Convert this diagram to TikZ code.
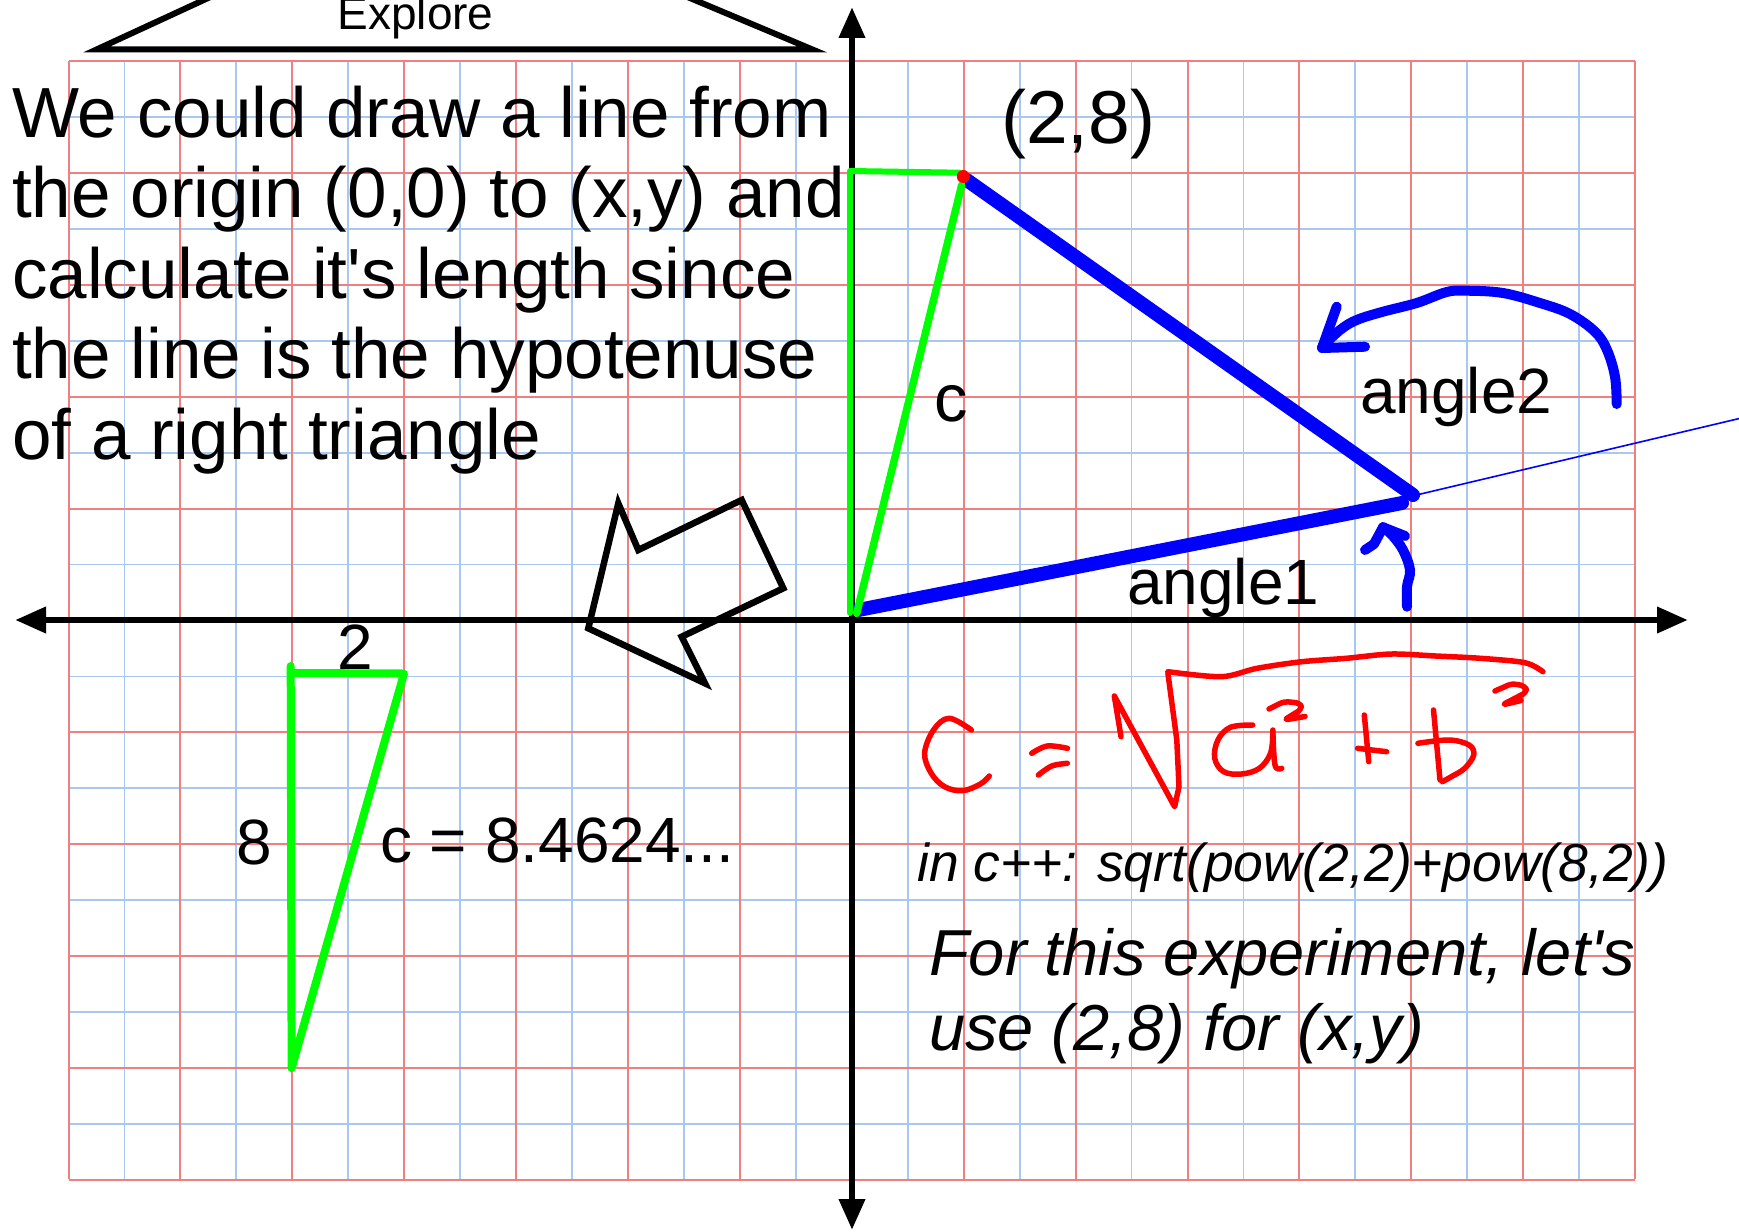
\documentclass[tikz,border=0pt]{standalone}
\usepackage{fontspec}
\setmainfont{Liberation Sans}[Ligatures=TeXOff]
\usetikzlibrary{arrows.meta}
\definecolor{gridred}{RGB}{240,128,128}
\definecolor{gridblue}{RGB}{168,200,240}
\definecolor{pgreen}{RGB}{0,255,0}
\definecolor{pblue}{RGB}{0,0,255}
\definecolor{pred}{RGB}{255,0,0}
\begin{document}
\begin{tikzpicture}[x=1pt,y=-1pt,
  txt/.style={inner sep=0pt, anchor=base west, text=black},
  bluegrid/.style={gridblue, line width=1.8},
  redgrid/.style={gridred, line width=2},
  axisline/.style={line width=6.8, {Triangle[length=31pt,width=25pt]}-{Triangle[length=31pt,width=25pt]}},
  greenline/.style={pgreen, line width=7.5, line cap=round, line join=round},
  bluethick/.style={pblue, line width=14, line cap=round},
  bluehand/.style={pblue, line width=10, line cap=round, line join=round},
  redhand/.style={pred, line width=5.5, line cap=round, line join=round},
  outline/.style={black, line width=6.5, line join=miter}]
\useasboundingbox (0,0) rectangle (1739,1231);
\clip (0,0) rectangle (1739,1231);
\fill[white] (0,0) rectangle (1739,1231);
% grid
\foreach \i in {1,3,...,27} \draw[bluegrid] ({68.5+\i*55.95},61) -- ({68.5+\i*55.95},1179);
\foreach \j in {1,3,...,19} \draw[bluegrid] (68.5,{61+\j*55.95}) -- (1635,{61+\j*55.95});
\foreach \i in {0,2,...,28} \draw[redgrid] ({68.5+\i*55.95},61) -- ({68.5+\i*55.95},1179);
\foreach \j in {0,2,...,20} \draw[redgrid] (68.5,{61+\j*55.95}) -- (1635,{61+\j*55.95});
% key points
\coordinate (O) at (852,620);
\coordinate (xl) at (15,620);
\coordinate (xr) at (1688,620);
\coordinate (yt) at (852,7);
\coordinate (yb) at (852,1230);
\coordinate (P) at (963.3,176.5);
\coordinate (V) at (1408,497);
% axes
\draw[axisline] (xl) -- (xr);
\draw[axisline] (yt) -- (yb);
% Explore banner
\draw[black, line width=6, line join=miter] (225.5,-10) -- (97,49.3) -- (812,49.3) -- (670.8,-10);
\node[txt, anchor=base] (explore) at (415.6,30) {\fontsize{46}{50}\selectfont Explore};
% main text
\node[txt] (l1) at (12,137.3) {\fontsize{71}{80}\selectfont We could draw a line from};
\node[txt] (l2) at (12,217.8) {\fontsize{71}{80}\selectfont the origin (0,0) to (x,y) and};
\node[txt] (l3) at (12,298.3) {\fontsize{71}{80}\selectfont calculate it's length since};
\node[txt] (l4) at (12,378.8) {\fontsize{71}{80}\selectfont the line is the hypotenuse};
\node[txt] (l5) at (12,459.3) {\fontsize{71}{80}\selectfont of a right triangle};
% blue triangle sides
\draw[pblue, line width=1.6] (V) -- (1760,413.6);
\draw[bluethick] (966.7,180) -- (1413,495);
\draw[bluethick] (1402,503) -- (858.3,610);
% green triangle at origin
\draw[greenline, line width=6] (850,613) -- (850,171) -- (960,172.7);
\draw[greenline] (961.7,185) -- (856.7,613.3);
\fill[pred] (P) circle (6.5);
% labels
\node[txt] (pt) at (1001,143.3) {\fontsize{75}{80}\selectfont (2,8)};
\node[txt] (clab) at (934,421.7) {\fontsize{67}{70}\selectfont c};
\node[txt] (ang2) at (1360,413.3) {\fontsize{64}{70}\selectfont angle2};
\node[txt] (ang1) at (1127,604.5) {\fontsize{64}{70}\selectfont angle1};
% hand-drawn blue arrows
\draw[bluehand] plot[smooth, tension=0.6] coordinates {(1616.7,404) (1615,376.7) (1607,350) (1595,331.7) (1570,314) (1540,303) (1503,293) (1466.7,290.7) (1446.7,292) (1416.7,303) (1383,311.7) (1356.7,320) (1340,330) (1322,347)};
\draw[bluehand] (1336.7,306.7) -- (1322,348) -- (1365,346.7);
\draw[bluehand] plot[smooth, tension=0.6] coordinates {(1407,606.7) (1407,586.7) (1410,570) (1403,550) (1392,535) (1383,527)};
\draw[bluehand] (1365,550) -- (1374,544) -- (1383,527.3) -- (1405,536);
% hollow arrow
\draw[outline] (618.3,503.3) -- (638.3,550) -- (741.7,500) -- (783.3,588.3) -- (681.7,636.7) -- (705,683.3) -- (588.3,628.3) -- cycle;
% left green triangle
\draw[greenline, line width=8] (290.7,666) -- (291.6,1068);
\draw[greenline, line width=8] (290.7,673) -- (404,673.5) -- (291.6,1068);
\node[txt] (two) at (337,669) {\fontsize{64}{70}\selectfont 2};
\node[txt] (eight) at (236,864) {\fontsize{64}{70}\selectfont 8};
\node[txt] (ceq) at (380,862) {\fontsize{64}{70}\selectfont c = 8.4624...};
% handwritten red formula
\draw[redhand] plot[smooth, tension=0.6] coordinates {(971.4,730) (949.1,718.3) (933.5,730) (924.6,753.3) (931.25,773.3) (944.6,786.7) (962.5,790.7) (980.4,784) (989.3,776)};
\draw[redhand] plot[smooth, tension=0.6] coordinates {(1031.7,753.3) (1047.3,746) (1067.4,748.3)};
\draw[redhand] plot[smooth, tension=0.6] coordinates {(1038.4,775) (1051.8,766) (1067.4,763.3)};
\draw[redhand] (1121,736.7) -- (1114.3,696) -- (1174.6,806.7) -- (1179,786.7) -- (1176.8,740) -- (1167.9,673.3);
\draw[redhand] plot[smooth, tension=0.5] coordinates {(1167.9,671.7) (1221.4,676.7) (1257,668.3) (1301.8,661.7) (1346.4,658.3) (1391,654) (1435.7,656) (1480.4,658.3) (1525,662.7) (1542.9,671.7)};
\draw[redhand] plot[smooth, tension=0.6] coordinates {(1252.7,725) (1230.4,727.3) (1217.9,740) (1214.7,758.3) (1223.7,771.7) (1241.5,774) (1259.4,768.3) (1270.5,753.3) (1272.8,733.3)};
\draw[redhand] plot[smooth, tension=0.6] coordinates {(1272.8,730) (1275,765) (1281.7,768.3)};
\draw[redhand, rounded corners=4] (1269,709) -- (1284,701.5) -- (1300,703) -- (1302,709) -- (1284,720) -- (1305,716.5);
\draw[redhand] (1357.6,748.3) -- (1386.6,751.7);
\draw[redhand] (1364.3,715) -- (1368.75,761.7);
\draw[redhand] (1433.5,710) -- (1440,780);
\draw[redhand] plot[smooth, tension=0.6] coordinates {(1417.9,743.3) (1449,740) (1469,745) (1473.7,755) (1464.7,768.3) (1451.3,776.7) (1442.4,781.7)};
\draw[redhand, rounded corners=4] (1495,691) -- (1512,683.5) -- (1525,686) -- (1527,692) -- (1502,705) -- (1521,700.5);
% italic notes
\node[txt] (cpp) at (917,881.7) {\fontsize{53.4}{60}\selectfont\itshape in c++: sqrt(pow(2,2)+pow(8,2))};
\node[txt] (exp1) at (929,975) {\fontsize{65}{75}\selectfont\itshape For this experiment, let's};
\node[txt] (exp2) at (929,1050) {\fontsize{65}{75}\selectfont\itshape use (2,8) for (x,y)};
\end{tikzpicture}
\end{document}
